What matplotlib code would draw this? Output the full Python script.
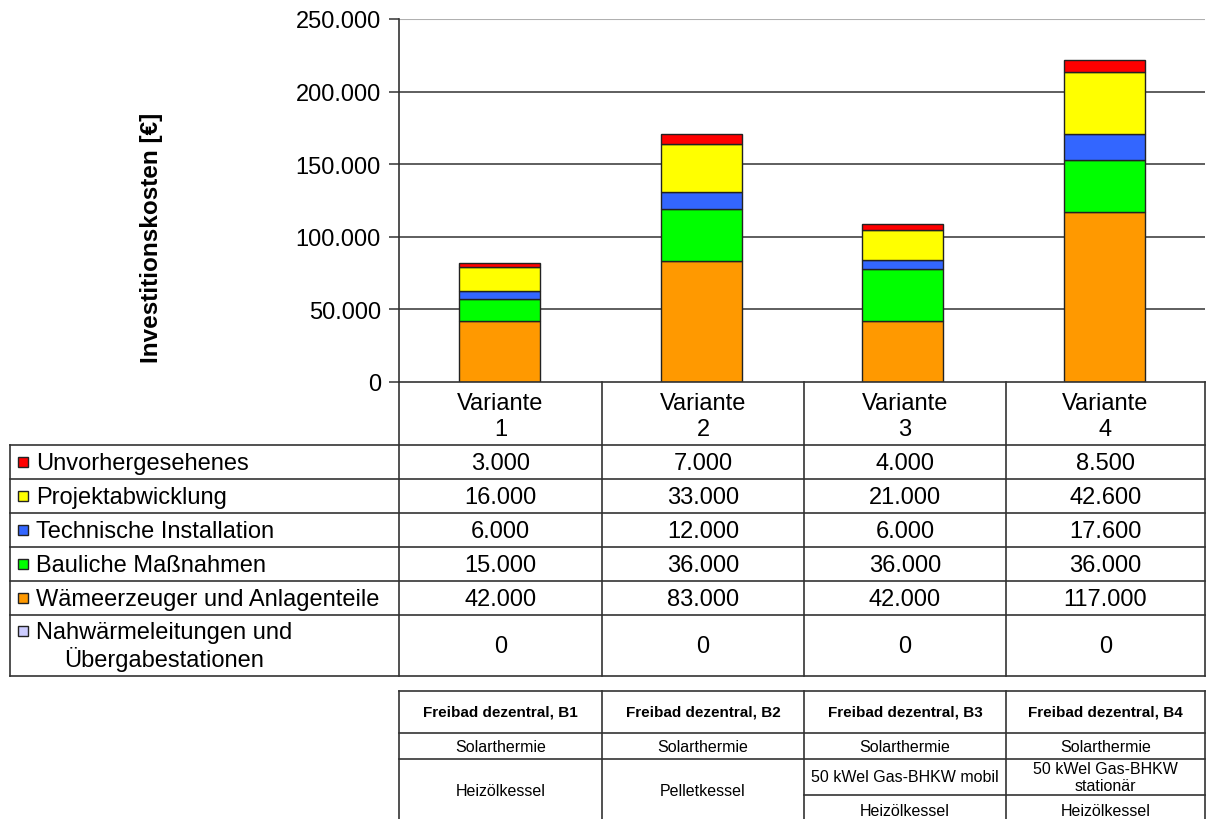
import matplotlib
matplotlib.use("Agg")
import matplotlib.pyplot as plt
from matplotlib.lines import Line2D
from matplotlib.patches import Rectangle

plt.rcParams['font.family'] = ['Liberation Sans', 'DejaVu Sans']

# ---- data ----
variants = ["Variante\n1", "Variante\n2", "Variante\n3", "Variante\n4"]
series_names = [
    "Unvorhergesehenes",
    "Projektabwicklung",
    "Technische Installation",
    "Bauliche Maßnahmen",
    "Wämeerzeuger und Anlagenteile",
    "Nahwärmeleitungen und\n    Übergabestationen",
]
unvorhergesehenes = [3000, 7000, 4000, 8500]
projektabwicklung = [16000, 33000, 21000, 42600]
technische_installation = [6000, 12000, 6000, 17600]
bauliche_massnahmen = [15000, 36000, 36000, 36000]
waermeerzeuger = [42000, 83000, 42000, 117000]
nahwaermeleitungen = [0, 0, 0, 0]

series_values = [unvorhergesehenes, projektabwicklung, technische_installation,
                 bauliche_massnahmen, waermeerzeuger, nahwaermeleitungen]
series_colors = ["#FF0000", "#FFFF00", "#3366FF", "#00FF00", "#FF9900", "#CCCCFF"]

yticks = [0, 50000, 100000, 150000, 200000, 250000]
ytick_labels = ["0", "50.000", "100.000", "150.000", "200.000", "250.000"]

scenario_headers = ["Freibad dezentral, B1", "Freibad dezentral, B2",
                    "Freibad dezentral, B3", "Freibad dezentral, B4"]
scenario_row1 = ["Solarthermie", "Solarthermie", "Solarthermie", "Solarthermie"]
scenario_row2 = ["Heizölkessel", "Pelletkessel", "50 kWel Gas-BHKW mobil",
                 "50 kWel Gas-BHKW\nstationär"]
scenario_row3 = [None, None, "Heizölkessel", "Heizölkessel"]


def fmt(v):
    return f"{v:,.0f}".replace(",", ".")


W, H = 1206, 820
fig = plt.figure(figsize=(W / 100, H / 100), dpi=100)
fig.patch.set_facecolor("white")

# chart area in pixel coordinates
x0, x1 = 399, 1205
y_top, y_bot = 20, 383
ax = fig.add_axes([x0 / W, 1 - y_bot / H, (x1 - x0) / W, (y_bot - y_top) / H])

n = len(variants)
xs = list(range(n))
bottoms = [0] * n
# stack from the base upward (last series in the list sits at the bottom)
for vals, col in zip(reversed(series_values), reversed(series_colors)):
    ax.bar(xs, vals, bottom=bottoms, width=0.4, color=col,
           edgecolor="#222222", linewidth=1.0, zorder=3)
    bottoms = [b + v for b, v in zip(bottoms, vals)]

ax.set_xlim(-0.5, n - 0.5)
ax.set_ylim(0, 250000)
ax.set_yticks(yticks)
ax.set_yticklabels(ytick_labels, fontsize=17)
ax.set_xticks([])
for t in yticks[1:-1]:
    ax.axhline(t, color="#333333", linewidth=1.1, zorder=1)
ax.axhline(250000, color="#B0B0B0", linewidth=1.5, zorder=1)
for side in ["top", "right", "bottom"]:
    ax.spines[side].set_visible(False)
ax.spines["left"].set_color("#333333")
ax.spines["left"].set_linewidth(1.2)
ax.tick_params(axis="y", direction="out", length=7, width=1.1, color="#333333", pad=6)
ax.set_ylabel("Investitionskosten [€]", fontsize=17.5, fontweight="bold")
ax.yaxis.set_label_coords(-0.293, 0.40)

# overlay in pixel coordinates for the data tables
ov = fig.add_axes([0, 0, 1, 1], zorder=5)
ov.set_xlim(0, W)
ov.set_ylim(H, 0)
ov.axis("off")
ov.patch.set_alpha(0)

lc = "#333333"
lw = 1.2


def hline(y, xa, xb, **kw):
    ov.add_line(Line2D([xa, xb], [y, y], color=kw.get("c", lc), linewidth=kw.get("lw", lw)))


def vline(x, ya, yb, **kw):
    ov.add_line(Line2D([x, x], [ya, yb], color=kw.get("c", lc), linewidth=kw.get("lw", lw)))


col_edges = [399, 602, 804, 1006, 1205]
col_centers = [(a + b) / 2 for a, b in zip(col_edges[:-1], col_edges[1:])]

# data table under the chart
header_top, header_bot = 383, 446
row_edges = [446, 480, 514, 548, 582, 616, 677]
left_edge = 10

hline(header_top, col_edges[0], col_edges[-1])
for x in col_edges:
    vline(x, header_top, row_edges[-1])
vline(left_edge, row_edges[0], row_edges[-1])
for y in row_edges:
    hline(y, left_edge, col_edges[-1])

for cx, lab in zip(col_centers, variants):
    top, bottom = lab.split("\n")
    ov.text(cx, 404, top, ha="center", va="center", fontsize=17)
    ov.text(cx, 430, bottom, ha="center", va="center", fontsize=17)

for i, (name, vals, col) in enumerate(zip(series_names, series_values, series_colors)):
    ya, yb = row_edges[i], row_edges[i + 1]
    if i == len(series_names) - 1:
        ty = ya + 16
    else:
        ty = (ya + yb) / 2
    ov.add_patch(Rectangle((18, ty - 5), 10, 10, facecolor=col, edgecolor="#222222",
                           linewidth=1.0))
    ov.text(36, ty + 1, name.split("\n")[0], ha="left", va="center", fontsize=17)
    if "\n" in name:
        ov.text(64, ty + 28, name.split("\n")[1].strip(), ha="left", va="center", fontsize=17)
    for cx, v in zip(col_centers, vals):
        ov.text(cx, (ya + yb) / 2 + 1, fmt(v), ha="center", va="center", fontsize=17)

# scenario description table
t_top = 692
t_rows = [692, 734, 760, 820]
split_y = 796
hline(t_top, col_edges[0], col_edges[-1])
hline(t_rows[1], col_edges[0], col_edges[-1])
hline(t_rows[2], col_edges[0], col_edges[-1])
hline(split_y, col_edges[2], col_edges[-1])
for x in col_edges:
    vline(x, t_top, H)

for j, cx in enumerate(col_centers):
    ov.text(cx, (t_rows[0] + t_rows[1]) / 2, scenario_headers[j], ha="center",
            va="center", fontsize=11, fontweight="bold")
    ov.text(cx, (t_rows[1] + t_rows[2]) / 2 + 1, scenario_row1[j], ha="center",
            va="center", fontsize=11.5)
    if scenario_row3[j] is None:
        ov.text(cx, 792, scenario_row2[j], ha="center", va="center", fontsize=11.5)
    elif "\n" in scenario_row2[j]:
        first, second = scenario_row2[j].split("\n")
        ov.text(cx, 770, first, ha="center", va="center", fontsize=11.5)
        ov.text(cx, 787, second, ha="center", va="center", fontsize=11.5)
        ov.text(cx, 812, scenario_row3[j], ha="center", va="center", fontsize=11.5)
    else:
        ov.text(cx, (t_rows[2] + split_y) / 2, scenario_row2[j], ha="center",
                va="center", fontsize=11.5)
        ov.text(cx, 812, scenario_row3[j], ha="center", va="center", fontsize=11.5)

fig.savefig("out.png", dpi=100, facecolor="white")
